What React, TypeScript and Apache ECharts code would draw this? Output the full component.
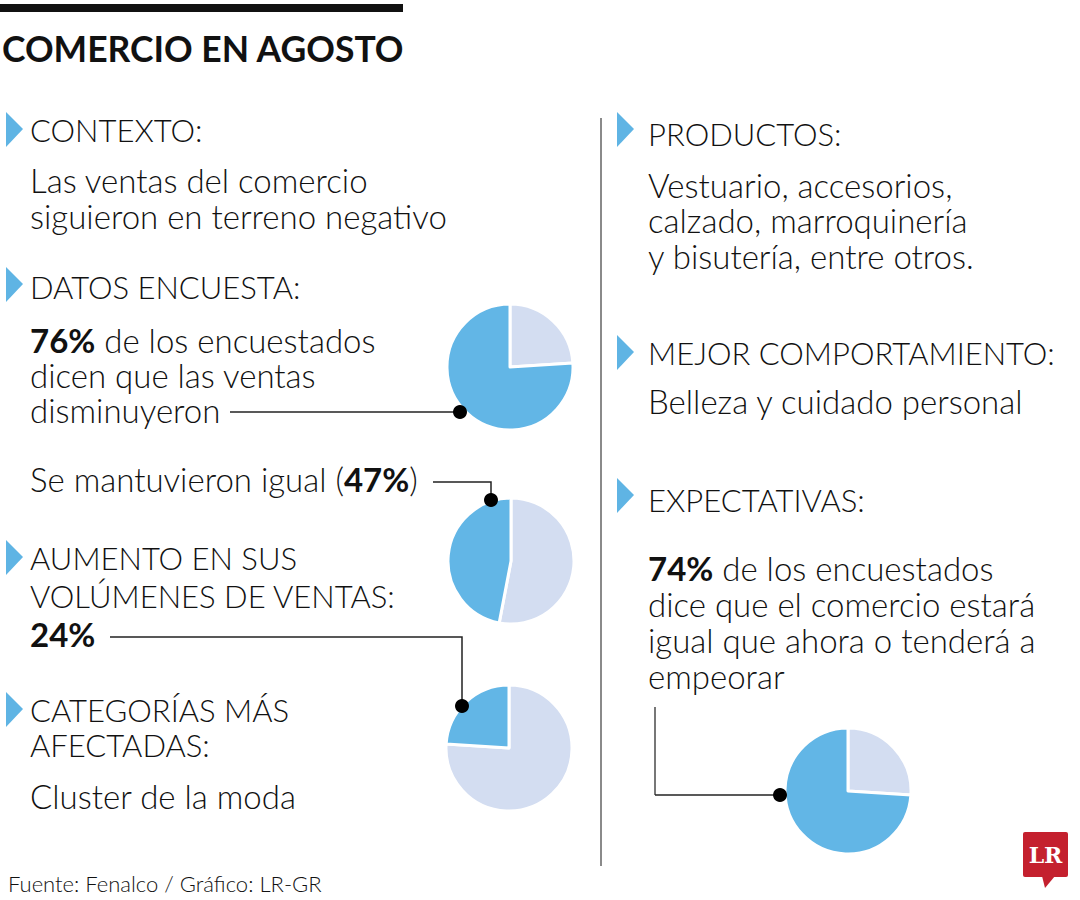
import React, { useEffect, useRef } from "react";
import * as echarts from "echarts";

// ---------- content ----------
const TITLE = "COMERCIO EN AGOSTO";
const SOURCE = "Fuente: Fenalco / Gráfico: LR-GR";

// pie values: [resto, destacado] clockwise from 12 o'clock
const ventasDisminuyeron = [24, 76];
const ventasIgual = [53, 47];
const ventasAumentaron = [76, 24];
const expectativaIgualOPeor = [26, 74];

const headingsLeft = ["CONTEXTO:", "DATOS ENCUESTA:", "AUMENTO EN SUS", "VOLÚMENES DE VENTAS:", "CATEGORÍAS MÁS", "AFECTADAS:"];
const headingsRight = ["PRODUCTOS:", "MEJOR COMPORTAMIENTO:", "EXPECTATIVAS:"];

const DARK = "#62b6e6";
const LIGHT = "#d3ddf1";
const ARROW = "#5fb4e4";
const FONT = "Lato";
const FS = 33; // body
const HS = 31; // headings

export default function App() {
  const ref = useRef<HTMLDivElement>(null);
  useEffect(() => {
    document.body.style.margin = "0";
    const chart = echarts.init(ref.current!, null, { renderer: "svg" });

    const txt = (text: string, x: number, y: number, extra: any = {}) => ({
      type: "text",
      x,
      y,
      z: 5,
      silent: true,
      style: {
        text,
        fill: "#111",
        fontFamily: FONT,
        fontSize: FS,
        fontWeight: 300,
        align: "left",
        verticalAlign: "middle",
        ...extra,
      },
    });
    const head = (text: string, x: number, y: number, extra: any = {}) =>
      txt(text, x, y, { fontSize: HS, ...extra });
    const mkRich = (lh: number) => ({
      b: { fontFamily: FONT, fontSize: FS, fontWeight: "bold", fill: "#111", lineHeight: lh },
      n: { fontFamily: FONT, fontSize: FS, fontWeight: 300, fill: "#111", lineHeight: lh },
      h: { fontFamily: FONT, fontSize: HS, fontWeight: 300, fill: "#111", lineHeight: lh },
    });
    const arrow = (x: number, y: number) => ({
      type: "polygon",
      silent: true,
      shape: { points: [[x, y], [x + 17, y + 17], [x, y + 35]] },
      style: { fill: ARROW },
    });
    const line = (pts: number[][], color = "#222", w = 1.5) => ({
      type: "polyline",
      silent: true,
      z: 10,
      shape: { points: pts },
      style: { stroke: color, lineWidth: w, fill: null },
    });
    const dot = (x: number, y: number) => ({
      type: "circle",
      silent: true,
      z: 20,
      shape: { cx: x, cy: y, r: 7 },
      style: { fill: "#000" },
    });

    const pie = (center: number[], vals: number[]) => ({
      type: "pie",
      center,
      radius: 63,
      startAngle: 90,
      clockwise: true,
      silent: true,
      z: 2,
      label: { show: false },
      labelLine: { show: false },
      itemStyle: { borderColor: "#fff", borderWidth: 3 },
      data: [
        { value: vals[0], name: "Resto", itemStyle: { color: LIGHT } },
        { value: vals[1], name: "Destacado", itemStyle: { color: DARK } },
      ],
    });

    const graphic: any[] = [
      { type: "rect", silent: true, shape: { x: 0, y: 4, width: 403, height: 8 }, style: { fill: "#111" } },
      txt(TITLE, 2, 48, { fontWeight: "bold", fontSize: 35.5 }),
      // left column
      arrow(6, 112),
      head(headingsLeft[0], 30, 130),
      txt("Las ventas del comercio\nsiguieron en terreno negativo", 30, 198, { lineHeight: 36 }),
      arrow(6, 267),
      head(headingsLeft[1], 30, 287),
      txt("{b|76%}{n| de los encuestados}\n{n|dicen que las ventas}\n{n|disminuyeron}", 30, 375, { rich: mkRich(35) }),
      txt("{n|Se mantuvieron igual (}{b|47%}{n|)}", 30, 479, { rich: mkRich(36) }),
      arrow(6, 540),
      txt(`{h|${headingsLeft[2]}}\n{h|${headingsLeft[3]}}\n{b|24%}`, 30, 596, { rich: mkRich(38) }),
      arrow(6, 692),
      head(`${headingsLeft[4]}\n${headingsLeft[5]}`, 30, 727.5, { lineHeight: 35 }),
      txt("Cluster de la moda", 30, 796),
      // right column
      arrow(617, 112),
      head(headingsRight[0], 648, 134),
      txt("Vestuario, accesorios,\ncalzado, marroquinería\ny bisutería, entre otros.", 648, 220, { lineHeight: 35.5 }),
      arrow(617, 335),
      head(headingsRight[1], 648, 353),
      txt("Belleza y cuidado personal", 648, 401),
      arrow(617, 478),
      head(headingsRight[2], 648, 500),
      txt(
        "{b|74%}{n| de los encuestados}\n{n|dice que el comercio estará}\n{n|igual que ahora o tenderá a}\n{n|empeorar}",
        648,
        622,
        { rich: mkRich(36) }
      ),
      // divider
      line([[601, 118], [601, 866]], "#8a8a8a", 2),
      // connectors
      line([[230, 412], [460, 412]]),
      dot(460, 412),
      line([[433, 482], [491, 482], [491, 500]]),
      dot(491, 500),
      line([[110, 637], [462, 637], [462, 706]]),
      dot(462, 706),
      line([[655, 707], [655, 795]], "#777", 2),
      line([[655, 795], [780, 795]]),
      dot(780, 795),
      // footer
      txt(SOURCE, 8, 883, { fontSize: 22 }),
      // logo
      { type: "rect", silent: true, shape: { x: 1023, y: 832, width: 45, height: 45, r: 2 }, style: { fill: "#c4202e" } },
      { type: "polygon", silent: true, shape: { points: [[1042, 876], [1055, 876], [1045, 888]] }, style: { fill: "#c4202e" } },
      {
        type: "text",
        x: 1045.5,
        y: 855,
        z: 5,
        silent: true,
        style: {
          text: "LR",
          fill: "#fff",
          fontFamily: "DejaVu Serif",
          fontWeight: "bold",
          fontSize: 22,
          align: "center",
          verticalAlign: "middle",
        },
      },
    ];

    chart.setOption({
      animation: false,
      backgroundColor: "#fff",
      series: [
        pie([510, 367], ventasDisminuyeron),
        pie([511, 561], ventasIgual),
        pie([509, 748], ventasAumentaron),
        pie([848, 791], expectativaIgualOPeor),
      ],
      graphic,
    });
    return () => chart.dispose();
  }, []);
  return <div ref={ref} style={{ width: 1080, height: 900 }} />;
}
